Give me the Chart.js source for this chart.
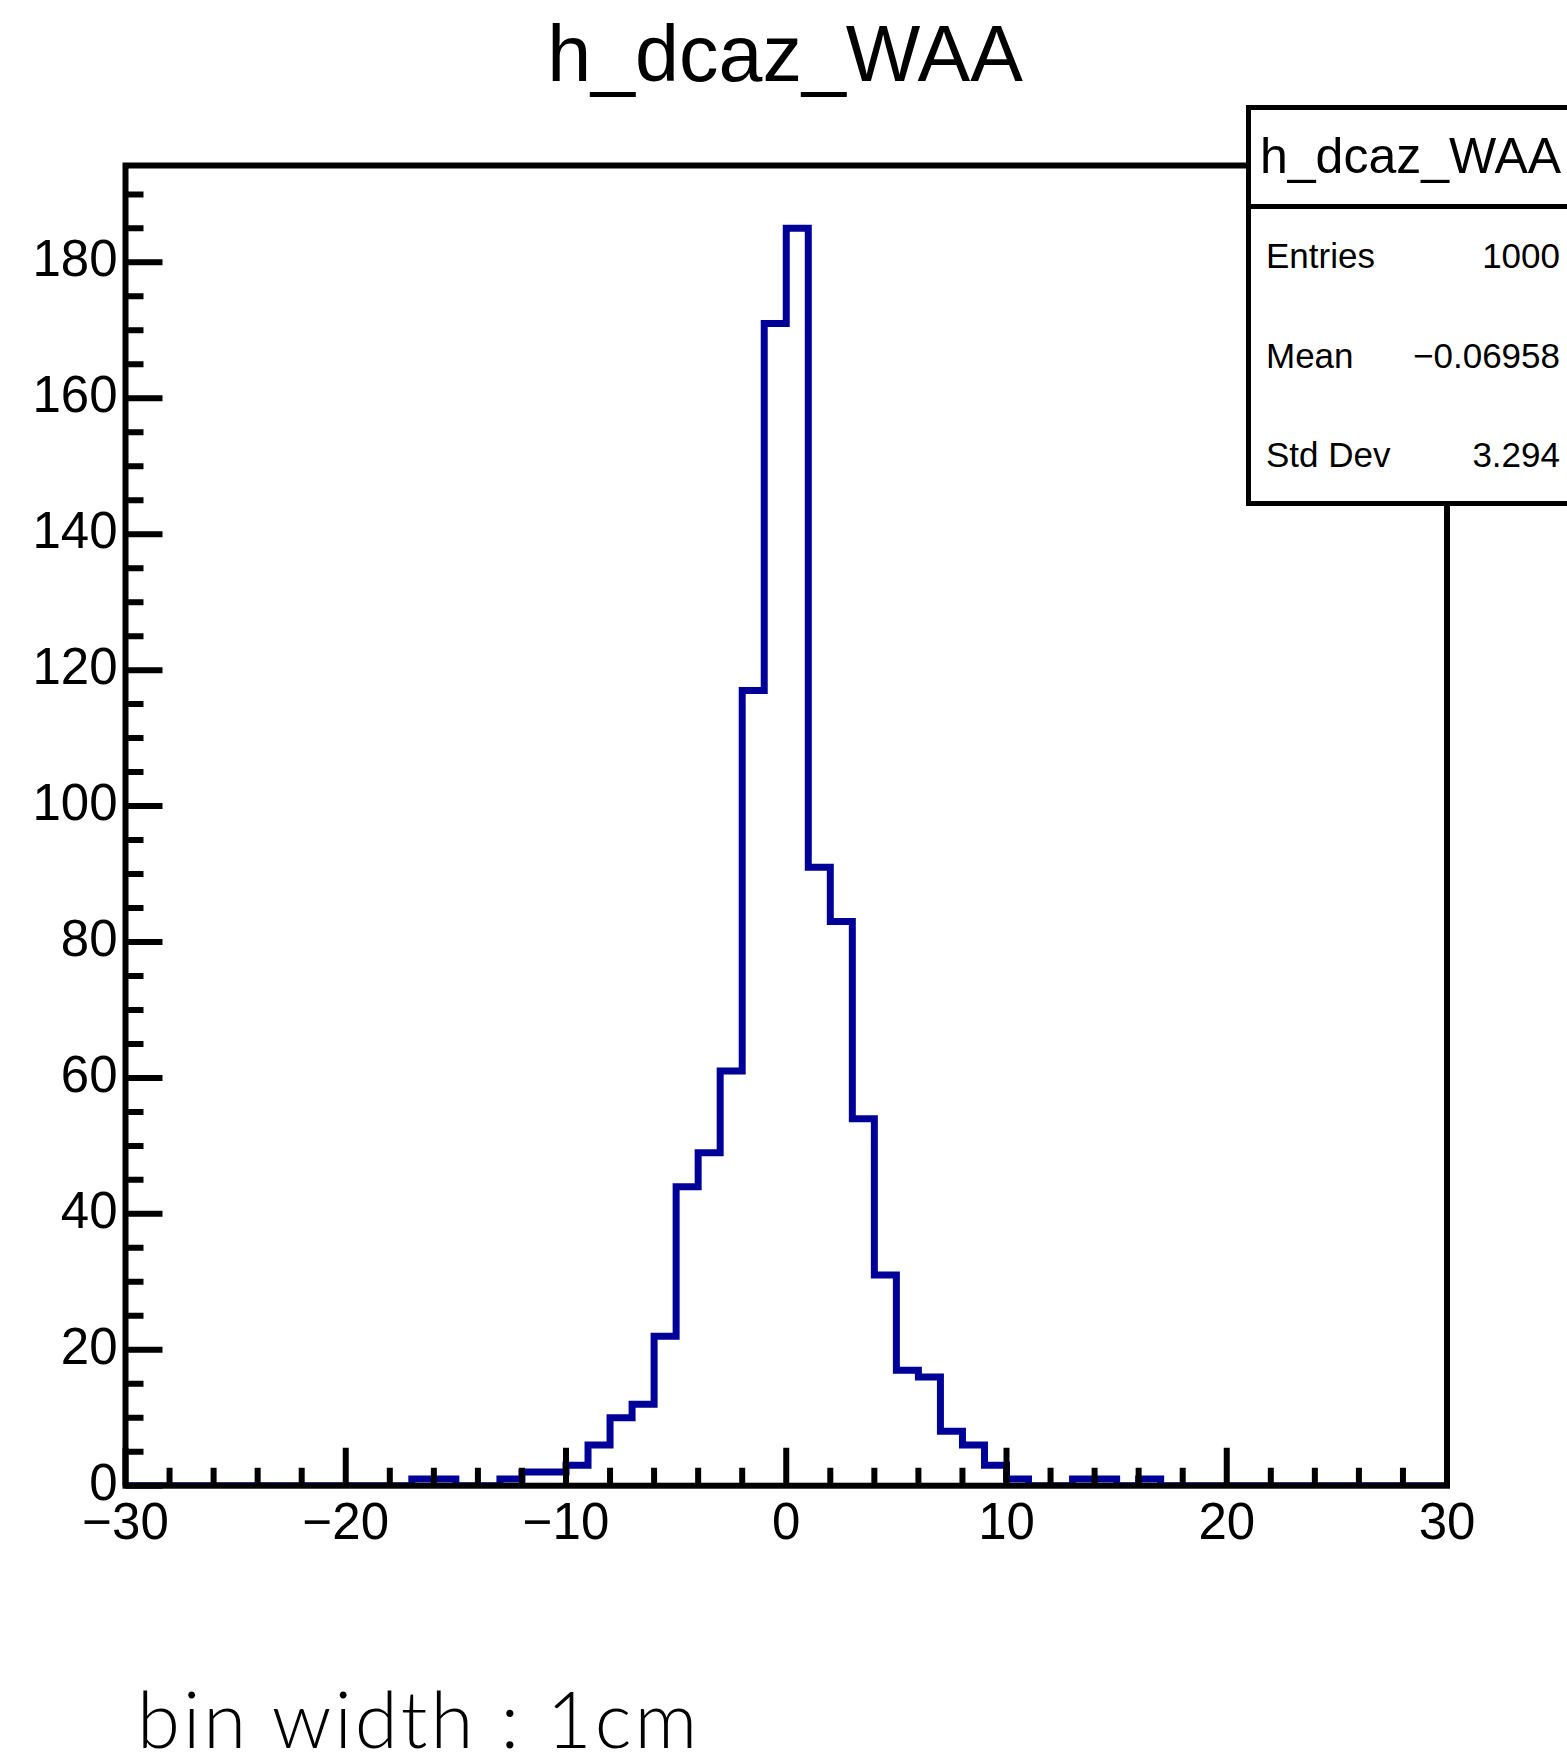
<!DOCTYPE html>
<html>
<head>
<meta charset="utf-8">
<script src="https://cdn.jsdelivr.net/npm/chart.js@4.4.0/dist/chart.umd.min.js"></script>
<style>
  body { margin: 0; background: #fff; overflow: hidden; }
  #wrap { position: relative; width: 1567px; height: 1758px; overflow: hidden; font-family: "Liberation Sans", Arial, sans-serif; color: #000; }
  #chart { position: absolute; left: 0; top: 0; }
  .txt { position: absolute; line-height: 1; white-space: nowrap; }
  #stats { position: absolute; left: 1246px; top: 105px; width: 400px; height: 391px; border: 5px solid #000; background: #fff; }
  #statsLine { position: absolute; left: 1246px; top: 204px; width: 400px; height: 5px; background: #000; }
</style>
</head>
<body>
<div id="wrap">
  <canvas id="chart" width="1567" height="1758"></canvas>
  <div class="txt" id="title" style="left:285px; width:1000px; text-align:center; top:14px; font-size:79px;"></div>
  <div id="stats"></div>
  <div id="statsLine"></div>
  <div class="txt" id="statsTitle" style="left:1260px; top:131px; font-size:50px;"></div>
  <div id="statsRows"></div>
  <div class="txt" id="note" style="left:137px; top:1679px; font-size:78px; font-family: Lato, 'DejaVu Sans', sans-serif; font-weight:300; letter-spacing:3px;"></div>
</div>
<script>
// histogram h_dcaz_WAA, 60 bins of 1 cm from -30 to 30
const histName = 'h_dcaz_WAA';
const xMin = -30;
const xMax = 30;
const counts = [
  0, 0, 0, 0, 0, 0, 0, 0, 0, 0,      // -30 .. -20
  0, 0, 0, 1, 1, 0, 0, 1, 2, 2,      // -20 .. -10
  3, 6, 10, 12, 22, 44, 49, 61, 117, 171, // -10 .. 0
  185, 91, 83, 54, 31, 17, 16, 8, 6, 3,   // 0 .. 10
  1, 0, 0, 1, 1, 0, 1, 0, 0, 0,      // 10 .. 20
  0, 0, 0, 0, 0, 0, 0, 0, 0, 0       // 20 .. 30
];
const yMax = 194.25;
const xTickValues = [-30, -20, -10, 0, 10, 20, 30];
const yTickValues = [0, 20, 40, 60, 80, 100, 120, 140, 160, 180];
const statLabels = ['Entries', 'Mean', 'Std Dev'];
const statValues = ['1000', '\u22120.06958', '3.294'];
const noteText = 'bin width : 1cm';

// texts
document.getElementById('title').textContent = histName;
document.getElementById('statsTitle').textContent = histName;
document.getElementById('note').textContent = noteText;
const rows = document.getElementById('statsRows');
statLabels.forEach((lab, i) => {
    const top = 238 + i * 99.5;
    const l = document.createElement('div');
    l.className = 'txt';
    l.style.cssText = `left:1266px; top:${top}px; font-size:35px;`;
    l.textContent = lab;
    const v = document.createElement('div');
    v.className = 'txt';
    v.style.cssText = `right:7px; top:${top}px; font-size:35px;`;
    v.textContent = statValues[i];
    rows.appendChild(l);
    rows.appendChild(v);
});

// step points at the bin edges
const points = counts.map((c, i) => ({ x: xMin + i, y: c }));
points.push({ x: xMax, y: counts[counts.length - 1] });

function fmt(v) {
    return v < 0 ? '\u2212' + Math.abs(v) : String(v);
}

// ROOT style frame with inward ticks
const rootFrame = {
    id: 'rootFrame',
    afterDatasetsDraw(chart) {
        const ctx = chart.ctx;
        const a = chart.chartArea;
        const xs = chart.scales.x;
        const ys = chart.scales.y;
        ctx.save();
        ctx.strokeStyle = '#000';
        ctx.lineWidth = 6;
        ctx.lineCap = 'butt';
        ctx.strokeRect(a.left, a.top, a.right - a.left, a.bottom - a.top);
        ctx.beginPath();
        for (let v = 0; v <= yMax; v += 5) {
            const y = ys.getPixelForValue(v);
            const len = v % 20 === 0 ? 37 : 18;
            ctx.moveTo(a.left, y);
            ctx.lineTo(a.left + len, y);
        }
        for (let v = xMin; v <= xMax; v += 2) {
            const x = xs.getPixelForValue(v);
            const len = v % 10 === 0 ? 38 : 18;
            ctx.moveTo(x, a.bottom);
            ctx.lineTo(x, a.bottom - len);
        }
        ctx.stroke();
        ctx.restore();
    }
};

const tickFont = { family: '"Liberation Sans", Arial, sans-serif', size: 51 };

new Chart(document.getElementById('chart'), {
    type: 'line',
    data: {
        datasets: [{
            data: points,
            stepped: 'before',
            borderColor: '#000099',
            borderWidth: 7,
            borderJoinStyle: 'miter',
            pointRadius: 0,
            fill: false
        }]
    },
    options: {
        responsive: false,
        animation: false,
        devicePixelRatio: 1,
        layout: { padding: { left: 0, top: 165.5, right: 120, bottom: 212.3 } },
        plugins: { legend: { display: false }, tooltip: { enabled: false } },
        scales: {
            x: {
                type: 'linear',
                min: xMin,
                max: xMax,
                grid: { display: false, drawTicks: false },
                border: { display: false },
                ticks: { font: tickFont, color: '#000', padding: 9, maxRotation: 0, autoSkip: false, callback: fmt },
                afterBuildTicks: s => { s.ticks = xTickValues.map(v => ({ value: v })); },
                afterFit: s => { s.height = 60; s.paddingLeft = 0; s.paddingRight = 0; }
            },
            y: {
                min: 0,
                max: yMax,
                grid: { display: false, drawTicks: false },
                border: { display: false },
                ticks: { font: tickFont, color: '#000', padding: 8, autoSkip: false, callback: fmt },
                afterBuildTicks: s => { s.ticks = yTickValues.map(v => ({ value: v })); },
                afterFit: s => { s.width = 125.5; s.paddingTop = 0; s.paddingBottom = 0; }
            }
        }
    },
    plugins: [rootFrame]
});
</script>
</body>
</html>
